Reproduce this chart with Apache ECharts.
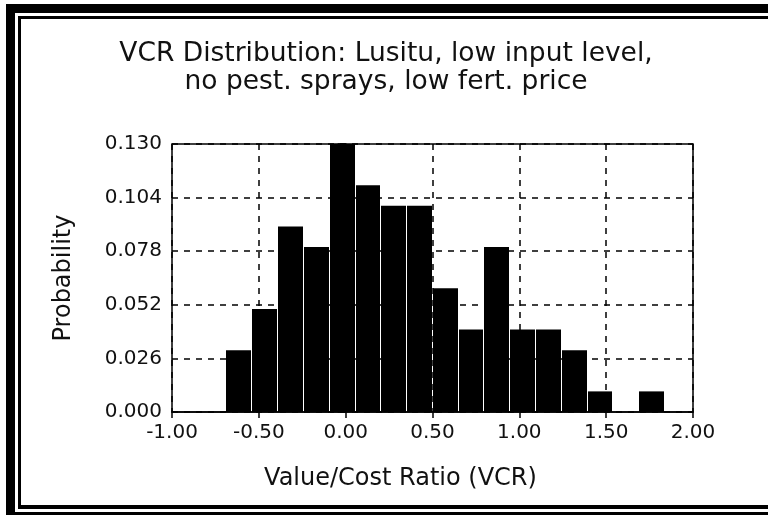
<!DOCTYPE html>
<html>
<head>
<meta charset="utf-8">
<script src="https://cdn.jsdelivr.net/npm/echarts@6/dist/echarts.min.js"></script>
<style>
html,body{margin:0;padding:0;background:#fff;}
#chart{width:768px;height:515px;}
</style>
</head>
<body>
<div id="chart"></div>
<script>
// Histogram bins (lower and upper VCR edge) and probabilities
var binLow  = [-0.692, -0.544, -0.395, -0.247, -0.098, 0.051, 0.199, 0.348, 0.496, 0.645, 0.793, 0.942, 1.090, 1.239, 1.387, 1.536, 1.684];
var binHigh = [-0.544, -0.395, -0.247, -0.098, 0.051, 0.199, 0.348, 0.496, 0.645, 0.793, 0.942, 1.090, 1.239, 1.387, 1.536, 1.684, 1.833];
var probability = [0.03, 0.05, 0.09, 0.08, 0.13, 0.11, 0.10, 0.10, 0.06, 0.04, 0.08, 0.04, 0.04, 0.03, 0.01, 0.00, 0.01];

var titleText = 'VCR Distribution: Lusitu, low input level,\nno pest. sprays, low fert. price';
var xName = 'Value/Cost Ratio (VCR)';
var yName = 'Probability';

var data = [];
for (var i = 0; i < probability.length; i++) {
  data.push([binLow[i], binHigh[i], probability[i]]);
}

var FONT = 'DejaVu Sans, sans-serif';
var chart = echarts.init(document.getElementById('chart'), null, {renderer: 'canvas'});
chart.setOption({
  animation: false,
  backgroundColor: '#fff',
  title: {
    text: titleText,
    left: 381, top: 35,
    textAlign: 'center',
    textStyle: {fontFamily: FONT, fontSize: 26.5, fontWeight: 'normal', color: '#111', lineHeight: 28}
  },
  grid: {left: 172, right: 75, top: 144, bottom: 103, show: true, borderColor: '#000', borderWidth: 1.5, backgroundColor: 'transparent'},
  xAxis: {
    type: 'value', min: -1, max: 2, interval: 0.5,
    name: xName, nameLocation: 'middle', nameGap: 55,
    nameTextStyle: {fontFamily: FONT, fontSize: 24, color: '#111', padding: [0, 64, 0, 0]},
    axisLine: {show: true, lineStyle: {color: '#000', width: 1.5}},
    axisTick: {show: true, length: 6, inside: false, lineStyle: {color: '#000', width: 1.5}},
    axisLabel: {fontFamily: FONT, fontSize: 20, color: '#111', margin: 11, formatter: function (v) { return v.toFixed(2); }},
    splitLine: {show: true, lineStyle: {color: '#000', type: [6, 6], width: 1.5}}
  },
  yAxis: {
    type: 'value', min: 0, max: 0.13, interval: 0.026,
    name: yName, nameLocation: 'middle', nameGap: 96, nameRotate: 90,
    nameTextStyle: {fontFamily: FONT, fontSize: 24, color: '#111'},
    axisLine: {show: true, lineStyle: {color: '#000', width: 1.5}},
    axisTick: {show: true, length: 8, inside: false, lineStyle: {color: '#000', width: 1.5}},
    axisLabel: {fontFamily: FONT, fontSize: 20, color: '#111', margin: 10, formatter: function (v) { return v.toFixed(3); }},
    splitLine: {show: true, lineStyle: {color: '#000', type: [6, 6], width: 1.5}}
  },
  series: [{
    type: 'custom',
    data: data,
    encode: {x: [0, 1], y: 2},
    renderItem: function (params, api) {
      var p0 = api.coord([api.value(0), api.value(2)]);
      var p1 = api.coord([api.value(1), 0]);
      if (api.value(2) <= 0) return null;
      return {
        type: 'rect',
        shape: {x: Math.round(p0[0]) + 1, y: p0[1], width: Math.round(p1[0]) - Math.round(p0[0]) - 1, height: p1[1] - p0[1]},
        style: {fill: '#000'}
      };
    },
    z: 2
  }],
  graphic: [
    {type: 'rect', shape: {x: 6, y: 4, width: 762, height: 9}, style: {fill: '#000'}, silent: true},
    {type: 'rect', shape: {x: 6, y: 4, width: 9, height: 511}, style: {fill: '#000'}, silent: true},
    {type: 'rect', shape: {x: 18, y: 16, width: 750, height: 3}, style: {fill: '#000'}, silent: true},
    {type: 'rect', shape: {x: 18, y: 16, width: 3, height: 491}, style: {fill: '#000'}, silent: true},
    {type: 'rect', shape: {x: 18, y: 505, width: 750, height: 4}, style: {fill: '#000'}, silent: true},
    {type: 'rect', shape: {x: 6, y: 512, width: 762, height: 3}, style: {fill: '#000'}, silent: true}
  ]
});
</script>
</body>
</html>
